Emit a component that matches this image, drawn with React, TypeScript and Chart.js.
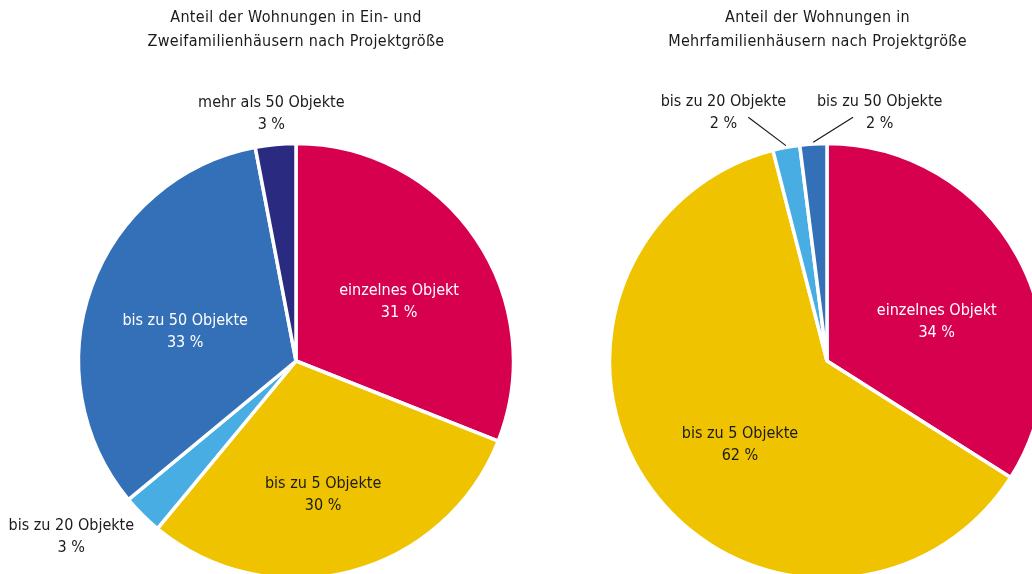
import React, { useEffect, useRef } from "react";
import { Chart, registerables } from "chart.js";

Chart.register(...registerables);

const FONT = "'Liberation Sans Narrow', 'DejaVu Sans Condensed', 'Arial Narrow', sans-serif";

const leftTitle = ["Anteil der Wohnungen in Ein- und", "Zweifamilienhäusern nach Projektgröße"];
const leftCategories = ["einzelnes Objekt", "bis zu 5 Objekte", "bis zu 20 Objekte", "bis zu 50 Objekte", "mehr als 50 Objekte"];
const leftValues = [31, 30, 3, 33, 3];
const leftColors = ["#D7004F", "#EFC300", "#47ADE2", "#3470B7", "#2A2B80"];

const rightTitle = ["Anteil der Wohnungen in", "Mehrfamilienhäusern nach Projektgröße"];
const rightCategories = ["einzelnes Objekt", "bis zu 5 Objekte", "bis zu 20 Objekte", "bis zu 50 Objekte"];
const rightValues = [34, 62, 2, 2];
const rightColors = ["#D7004F", "#EFC300", "#47ADE2", "#3470B7"];

type LabelLayout = { f: number; rot: number; color: string; leader?: { f0: number; f1: number; rot1: number } };

const leftLayout: LabelLayout[] = [
  { f: 0.55, rot: 4.4, color: "#ffffff" },
  { f: 0.63, rot: 2.9, color: "#1a1a1a" },
  { f: 1.32, rot: 7, color: "#1a1a1a" },
  { f: 0.53, rot: -5.3, color: "#ffffff" },
  { f: 1.15, rot: -0.3, color: "#1a1a1a" },
];

const rightLayout: LabelLayout[] = [
  { f: 0.54, rot: 9, color: "#ffffff" },
  { f: 0.56, rot: -8, color: "#1a1a1a" },
  { f: 1.243, rot: -11.9, color: "#1a1a1a", leader: { f0: 1.015, f1: 1.186, rot1: -7.1 } },
  { f: 1.173, rot: 15.6, color: "#1a1a1a", leader: { f0: 1.015, f1: 1.135, rot1: 9.7 } },
];

type PieProps = {
  title: string[];
  titleX: number;
  categories: string[];
  values: number[];
  colors: string[];
  layout: LabelLayout[];
  left: number;
  padLeft: number;
};

function PieChart({ title, titleX, categories, values, colors, layout, left, padLeft }: PieProps) {
  const ref = useRef<HTMLCanvasElement | null>(null);
  useEffect(() => {
    if (!ref.current) return;
    const labelPlugin = {
      id: "pieLabels",
      afterDraw(chart: any) {
        const ctx = chart.ctx as CanvasRenderingContext2D;
        ctx.save();
        (ctx as any).letterSpacing = "0.3px";
        ctx.font = `16px ${FONT}`;
        ctx.textAlign = "center";
        ctx.textBaseline = "middle";
        ctx.fillStyle = "#1a1a1a";
        title.forEach((t, i) => ctx.fillText(t, titleX, 18 + i * 24));
        (ctx as any).letterSpacing = "0px";
        const meta = chart.getDatasetMeta(0);
        meta.data.forEach((arc: any, i: number) => {
          const p = arc.getProps(["x", "y", "startAngle", "endAngle", "outerRadius"], true);
          const mid = (p.startAngle + p.endAngle) / 2;
          const lay = layout[i];
          const R = p.outerRadius - 1.5;
          const a = mid + (lay.rot * Math.PI) / 180;
          const cx = p.x + Math.cos(a) * R * lay.f;
          const cy = p.y + Math.sin(a) * R * lay.f;
          if (lay.leader) {
            const a1 = mid + (lay.leader.rot1 * Math.PI) / 180;
            ctx.beginPath();
            ctx.strokeStyle = "#1a1a1a";
            ctx.lineWidth = 1.2;
            ctx.moveTo(p.x + Math.cos(mid) * R * lay.leader.f0, p.y + Math.sin(mid) * R * lay.leader.f0);
            ctx.lineTo(p.x + Math.cos(a1) * R * lay.leader.f1, p.y + Math.sin(a1) * R * lay.leader.f1);
            ctx.stroke();
          }
          ctx.fillStyle = lay.color;
          ctx.fillText(categories[i], cx, cy - 11);
          ctx.fillText(`${values[i]} %`, cx, cy + 11);
        });
        ctx.restore();
      },
    };
    const chart = new Chart(ref.current, {
      type: "pie",
      data: {
        labels: categories,
        datasets: [
          {
            data: values,
            backgroundColor: colors,
            borderColor: "#ffffff",
            borderWidth: 3.5,
            clip: false as any,
          },
        ],
      },
      options: {
        animation: false,
        responsive: false,
        devicePixelRatio: 1,
        radius: 217.5,
        layout: { padding: { left: padLeft, top: 148, right: 0, bottom: 0 } },
        plugins: { legend: { display: false }, tooltip: { enabled: false }, title: { display: false } },
        events: [],
      } as any,
      plugins: [labelPlugin],
    });
    return () => chart.destroy();
  }, []);
  return (
    <canvas
      ref={ref}
      width={516}
      height={574}
      style={{ position: "absolute", left, top: 0, width: 516, height: 574 }}
    />
  );
}

export default function App() {
  return (
    <div
      style={{
        position: "fixed",
        left: 0,
        top: 0,
        width: 1032,
        height: 574,
        overflow: "hidden",
        background: "#ffffff",
      }}
    >
      <PieChart
        title={leftTitle}
        titleX={296}
        categories={leftCategories}
        values={leftValues}
        colors={leftColors}
        layout={leftLayout}
        left={0}
        padLeft={76}
      />
      <PieChart
        title={rightTitle}
        titleX={301.5}
        categories={rightCategories}
        values={rightValues}
        colors={rightColors}
        layout={rightLayout}
        left={516}
        padLeft={106}
      />
    </div>
  );
}
